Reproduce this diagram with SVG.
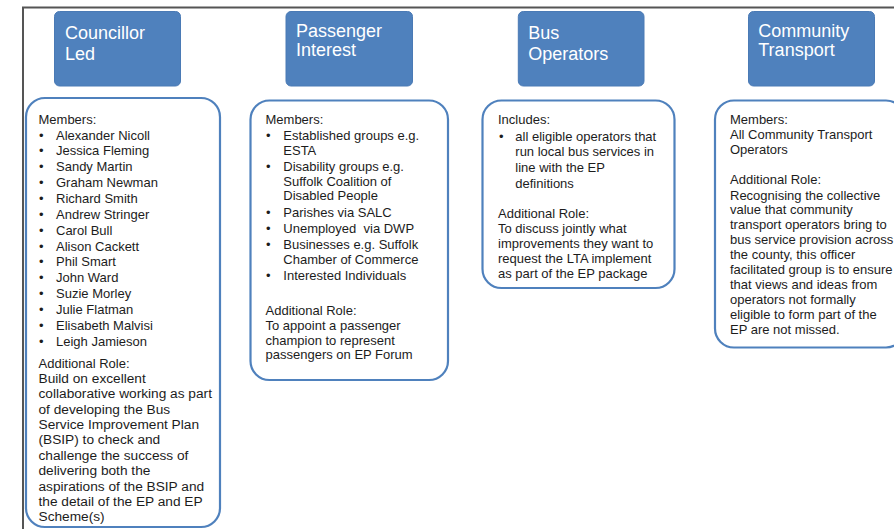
<svg xmlns="http://www.w3.org/2000/svg" width="894" height="529" viewBox="0 0 894 529">
<style>
.hb{fill:#4F81BD;stroke:#4A7AB5;stroke-width:1}
.ht{fill:#ffffff;font-family:"Liberation Sans",Arial,sans-serif;font-size:18px}
.cb{fill:#ffffff;stroke:#4F81BD;stroke-width:2.2}
.t{fill:#1c1c1c;font-family:"Liberation Sans",Arial,sans-serif;font-size:13px}
.p{font-size:13.7px}
.frame{fill:none;stroke:#555555;stroke-width:2}
</style>
<rect width="894" height="529" fill="#ffffff"/>
<path class="frame" d="M23,529 V7.5 H894"/>

<g id="hdr-councillor">
<rect class="hb" x="54.5" y="11.5" width="126" height="74.5" rx="5"/>
<text class="ht" x="65" y="38.8">Councillor</text>
<text class="ht" x="65" y="59.8">Led</text>
</g>
<g id="hdr-passenger">
<rect class="hb" x="286" y="11.5" width="126.5" height="74.5" rx="5"/>
<text class="ht" x="296" y="36.5">Passenger</text>
<text class="ht" x="296" y="56">Interest</text>
</g>
<g id="hdr-bus">
<rect class="hb" x="518.3" y="11.5" width="125.7" height="74.5" rx="5"/>
<text class="ht" x="528.3" y="38.8">Bus</text>
<text class="ht" x="528.3" y="59.8">Operators</text>
</g>
<g id="hdr-community">
<rect class="hb" x="748.5" y="11.5" width="126" height="74.5" rx="5"/>
<text class="ht" x="758.3" y="36.5">Community</text>
<text class="ht" x="758.3" y="56">Transport</text>
</g>

<g id="box-councillor">
<rect class="cb" x="26" y="98" width="194" height="429" rx="19"/>
<text class="t" x="38.5" y="123.5">Members:</text>
<g class="t">
<text x="39" y="139.5">•</text><text x="56" y="139.5">Alexander Nicoll</text>
<text x="39" y="155.4">•</text><text x="56" y="155.4">Jessica Fleming</text>
<text x="39" y="171.2">•</text><text x="56" y="171.2">Sandy Martin</text>
<text x="39" y="187.1">•</text><text x="56" y="187.1">Graham Newman</text>
<text x="39" y="202.9">•</text><text x="56" y="202.9">Richard Smith</text>
<text x="39" y="218.8">•</text><text x="56" y="218.8">Andrew Stringer</text>
<text x="39" y="234.6">•</text><text x="56" y="234.6">Carol Bull</text>
<text x="39" y="250.5">•</text><text x="56" y="250.5">Alison Cackett</text>
<text x="39" y="266.3">•</text><text x="56" y="266.3">Phil Smart</text>
<text x="39" y="282.2">•</text><text x="56" y="282.2">John Ward</text>
<text x="39" y="298">•</text><text x="56" y="298">Suzie Morley</text>
<text x="39" y="313.9">•</text><text x="56" y="313.9">Julie Flatman</text>
<text x="39" y="329.7">•</text><text x="56" y="329.7">Elisabeth Malvisi</text>
<text x="39" y="345.6">•</text><text x="56" y="345.6">Leigh Jamieson</text>
</g>
<text class="t" x="38.5" y="367.5">Additional Role:</text>
<g class="t p">
<text x="38.5" y="383">Build on excellent</text>
<text x="38.5" y="398.4">collaborative working as part</text>
<text x="38.5" y="413.7">of developing the Bus</text>
<text x="38.5" y="429.1">Service Improvement Plan</text>
<text x="38.5" y="444.4">(BSIP) to check and</text>
<text x="38.5" y="459.8">challenge the success of</text>
<text x="38.5" y="475.1">delivering both the</text>
<text x="38.5" y="490.5">aspirations of the BSIP and</text>
<text x="38.5" y="505.8">the detail of the EP and EP</text>
<text x="38.5" y="521.2">Scheme(s)</text>
</g>
</g>

<g id="box-passenger">
<rect class="cb" x="250.5" y="100.5" width="197.5" height="279.5" rx="19"/>
<text class="t" x="265.5" y="123.5">Members:</text>
<g class="t">
<text x="266" y="140">•</text><text x="283.3" y="140">Established groups e.g.</text>
<text x="283.3" y="154.5">ESTA</text>
<text x="266" y="171">•</text><text x="283.3" y="171">Disability groups e.g.</text>
<text x="283.3" y="185.5">Suffolk Coalition of</text>
<text x="283.3" y="200">Disabled People</text>
<text x="266" y="216.5">•</text><text x="283.3" y="216.5">Parishes via SALC</text>
<text x="266" y="232.5">•</text><text x="283.3" y="232.5" style="white-space:pre">Unemployed  via DWP</text>
<text x="266" y="249">•</text><text x="283.3" y="249">Businesses e.g. Suffolk</text>
<text x="283.3" y="263.5">Chamber of Commerce</text>
<text x="266" y="280">•</text><text x="283.3" y="280">Interested Individuals</text>
</g>
<text class="t" x="265.5" y="315">Additional Role:</text>
<text class="t" x="265.5" y="330">To appoint a passenger</text>
<text class="t" x="265.5" y="344.5">champion to represent</text>
<text class="t" x="265.5" y="359">passengers on EP Forum</text>
</g>

<g id="box-bus">
<rect class="cb" x="482.5" y="100.5" width="192" height="187.5" rx="19"/>
<text class="t" x="498" y="123.5">Includes:</text>
<text class="t" x="499" y="140.5">•</text>
<text class="t" x="515.3" y="140.5">all eligible operators that</text>
<text class="t" x="515.3" y="156">run local bus services in</text>
<text class="t" x="515.3" y="171.5">line with the EP</text>
<text class="t" x="515.3" y="187.5">definitions</text>
<text class="t" x="498" y="218">Additional Role:</text>
<text class="t" x="498" y="233">To discuss jointly what</text>
<text class="t" x="498" y="248">improvements they want to</text>
<text class="t" x="498" y="263">request the LTA implement</text>
<text class="t" x="498" y="278">as part of the EP package</text>
</g>

<g id="box-community">
<rect class="cb" x="715" y="100.5" width="190" height="247" rx="19"/>
<text class="t" x="730" y="123.5">Members:</text>
<text class="t" x="730" y="139">All Community Transport</text>
<text class="t" x="730" y="154">Operators</text>
<text class="t" x="730" y="184">Additional Role:</text>
<text class="t" x="730" y="199.5">Recognising the collective</text>
<text class="t" x="730" y="214.4">value that community</text>
<text class="t" x="730" y="229.3">transport operators bring to</text>
<text class="t" x="730" y="244.2">bus service provision across</text>
<text class="t" x="730" y="259.1">the county, this officer</text>
<text class="t" x="730" y="274">facilitated group is to ensure</text>
<text class="t" x="730" y="288.9">that views and ideas from</text>
<text class="t" x="730" y="303.8">operators not formally</text>
<text class="t" x="730" y="318.7">eligible to form part of the</text>
<text class="t" x="730" y="333.6">EP are not missed.</text>
</g>
</svg>
